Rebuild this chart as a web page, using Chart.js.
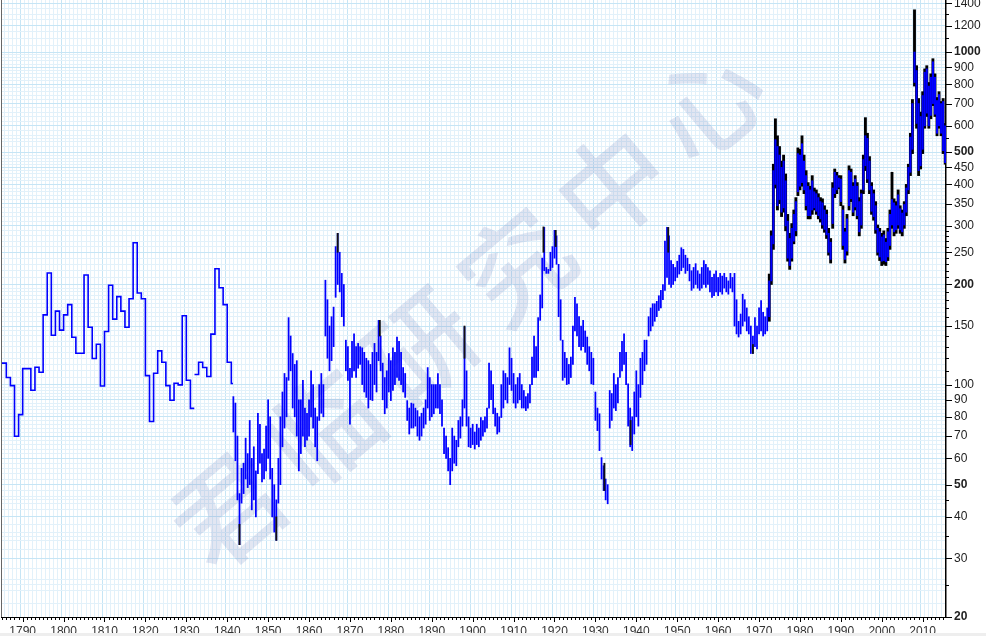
<!DOCTYPE html>
<html><head><meta charset="utf-8">
<script src="https://cdn.jsdelivr.net/npm/chart.js@4.4.1/dist/chart.umd.min.js"></script>
<style>html,body{margin:0;padding:0;background:#fff;}#wrap{width:986px;height:636px;position:relative;}</style>
</head><body><div id="wrap"><canvas id="c" width="986" height="636"></canvas></div>
<script>
// ---- Annual step series (1784-1841) ----
const earlyYears = [1784,1785,1786,1787,1788,1789,1790,1791,1792,1793,1794,1795,1796,1797,1798,1799,1800,1801,1802,1803,1804,1805,1806,1807,1808,1809,1810,1811,1812,1813,1814,1815,1816,1817,1818,1819,1820,1821,1822,1823,1824,1825,1826,1827,1828,1829,1830,1831,1831.95,1831.97,1832,1833,1834,1835,1836,1837,1838,1839,1840,1841,1841.4];
const earlyValues = [116,116,105,99.3,69.9,81.2,111.7,111.7,96.1,112.7,108.9,162,216.6,140.7,166.3,145.8,162,174,138.8,124.2,124.2,213.6,148.8,119.8,132.2,99,144.4,199,157.3,183.9,166.3,148.8,181.2,267,188.6,181.2,106.4,77.4,108.2,126.3,116.7,99.3,89.7,100.9,99.8,161,103,84.8,84.8,null,107.2,116.7,112.5,105.7,141.8,223,195.5,174,116.7,100.7,100.7];

// ---- Half-year ranges (1841.5-1972) ----
const midYears = [
1841.5,1842,1842.5,1843,1843.5,1844,1844.5,1845,1845.5,1846,1846.5,1847,1847.5,1848,1848.5,1849,1849.5,1850,1850.5,
1851,1851.5,1852,1852.5,1853,1853.5,1854,1854.5,1855,1855.5,1856,1856.5,1857,1857.5,1858,1858.5,1859,1859.5,1860,1860.5,
1861,1861.5,1862,1862.5,1863,1863.5,1864,1864.5,1865,1865.5,1866,1866.5,1867,1867.5,1868,1868.5,1869,1869.5,1870,1870.5,
1871,1871.5,1872,1872.5,1873,1873.5,1874,1874.5,1875,1875.5,1876,1876.5,1877,1877.5,1878,1878.5,1879,1879.5,1880,1880.5,
1881,1881.5,1882,1882.5,1883,1883.5,1884,1884.5,1885,1885.5,1886,1886.5,1887,1887.5,1888,1888.5,1889,1889.5,1890,1890.5,
1891,1891.5,1892,1892.5,1893,1893.5,1894,1894.5,1895,1895.5,1896,1896.5,1897,1897.5,1898,1898.5,1899,1899.5,1900,1900.5,
1901,1901.5,1902,1902.5,1903,1903.5,1904,1904.5,1905,1905.5,1906,1906.5,1907,1907.5,1908,1908.5,1909,1909.5,1910,1910.5,
1911,1911.5,1912,1912.5,1913,1913.5,1914,1914.5,1915,1915.5,1916,1916.5,1917,1917.5,1918,1918.5,1919,1919.5,1920,1920.5,
1921,1921.5,1922,1922.5,1923,1923.5,1924,1924.5,1925,1925.5,1926,1926.5,1927,1927.5,1928,1928.5,1929,1929.5,1930,1930.5,
1931,1931.5,1932,1932.5,1933,1933.5,1934,1934.5,1935,1935.5,1936,1936.5,1937,1937.5,1938,1938.5,1939,1939.5,1940,1940.5,
1941,1941.5,1942,1942.5,1943,1943.5,1944,1944.5,1945,1945.5,1946,1946.5,1947,1947.5,1948,1948.5,1949,1949.5,1950,1950.5,
1951,1951.5,1952,1952.5,1953,1953.5,1954,1954.5,1955,1955.5,1956,1956.5,1957,1957.5,1958,1958.5,1959,1959.5,1960,1960.5,
1961,1961.5,1962,1962.5,1963,1963.5,1964,1964.5,1965,1965.5,1966,1966.5,1967,1967.5,1968,1968.5,1969,1969.5,1970,1970.5,
1971,1971.5,1972];
const midLow = [
72,59,45,33,44,47,52,49,50,42,45,40,54,58,51,52,55,60,52,
40,36,34,44,50,65,74,80,103,110,85,80,70,55,62,70,65,68,70,80,
74,65,59,78,82,80,140,120,110,118,130,183,200,190,160,150,110,103,76,105,
110,105,112,115,100,95,91.5,85,90,89.5,100,95,118,110,90,81.7,85,95,89.5,96,
100,105,103,100,95,91.5,78,71,74,74,75,70,68,70,74,76,85,78,80,81.7,
85,85,81.7,75,62,60,55,50,55,58,57,65,69,75,85,75,65,64.6,66,64,
66,65,68,70,72,74,85,90,81.7,75,71,72,79.6,85,90,88,100,96,88,85,
88,90,85,85,83.5,85,88,100,105,105,110,156,170,220,216,216,220,225,240,230,
160,136,103,105,100,100.5,105,115,145,140,130,127,130,125,115,110,100.5,100,78,72.7,
63.3,52,48,45,43.8,74,78,85,83.5,88,105,110,115,100,75,65,63.3,71,80,75,
91.5,100,110,115,140,145,150,155,160,167,170,180,192,210,200,196,200,205,210,215,
220,225,216,220,205,192,195,200,195,192,195,200,196,200,190,183,185,190,185,190,
187,195,190,187,195,190,150,142,139,142,150,155,145,142,124,124,130,128,142,145,
140,142,145];
const midHigh = [
92,88,70,47,56,58,69,62,78,60,65,55,82,76,62,64,75,90,80,
56,50,45,60,80,95,108,105,159,140,124,115,118,90,90,103,85,82,90,110,
100,85,80,100,108,100,206,180,150,160,171,260,285,250,216,200,136,130,112,135,
142,130,133,130,129,125,120,118,115,125,133,125,156,140,116,105,110,124,118,129,
125,139,135,125,112.5,108,89.5,85,88,87.5,85,83.5,80,82,85,90,112.5,105,100,100,
100,108,100,90,74,70,64.6,60,74,70,68,78,80,90,149,110,80,74,76,72,
76,74,79.6,78,80,85,116,110,100,85,82,80,100,110,108,105,129,120,108,100,
105,108,100,96,92,94,100,121,140,130,159,186,240,297,225,222,250,260,291,280,
230,180,136,125,120,115,121,150,183,175,160,150,156,145,139,130,125,120,95,85,
81.7,60.3,57,52,50,96,94,108,100,105,125,135,142,125,100.5,85,80,95,110,100,
120,125,136,136,160,170,175,175,178,185,192,200,270,297,280,236,230,225,235,245,
258,255,245,240,230,220,225,231,220,215,225,236,230,225,220,210,215,220,210,216,
212,216,210,205,216,210,216,180,155,163,187,180,170,160,150,140,159,150,170,179,
165,160,170];

// ---- Half-year ranges (1972.5-2015.5): full range and body ----
const lateYears = [1972.5,1973,1973.5,1974,1974.5,1975,1975.5,1976,1976.5,1977,1977.5,1978,1978.5,1979,1979.5,1980,1980.5,
1981,1981.5,1982,1982.5,1983,1983.5,1984,1984.5,1985,1985.5,1986,1986.5,1987,1987.5,1988,1988.5,1989,1989.5,1990,1990.5,
1991,1991.5,1992,1992.5,1993,1993.5,1994,1994.5,1995,1995.5,1996,1996.5,1997,1997.5,1998,1998.5,1999,1999.5,2000,2000.5,
2001,2001.5,2002,2002.5,2003,2003.5,2004,2004.5,2005,2005.5,2006,2006.5,2007,2007.5,2008,2008.5,2009,2009.5,2010,2010.5,
2011,2011.5,2012,2012.5,2013,2013.5,2014,2014.5,2015,2015.5];
const lateLow = [155,200,255,390,335,350,320,330,290,235,222,235,265,280,370,385,395,
375,335,315,315,325,335,325,315,308,295,287,275,245,232,295,365,375,388,345,255,
232,245,335,355,322,335,315,280,295,375,440,405,375,325,312,285,245,236,228,230,
228,236,255,295,280,285,295,285,280,295,322,375,425,495,790,590,425,445,495,590,
640,590,630,690,640,560,590,560,495,460];
const lateHigh = [215,290,460,630,560,520,470,490,430,325,285,305,335,365,515,510,560,
490,440,405,395,425,390,385,375,365,362,345,335,295,275,405,445,435,425,425,345,
295,325,455,445,405,425,405,365,385,490,635,570,485,405,385,355,302,295,285,290,
275,295,335,435,362,355,385,345,335,355,400,460,570,720,1340,910,725,660,760,890,
910,810,860,955,860,730,760,710,725,610];
const lateBodyLow = [160,205,265,400,345,360,330,340,300,240,228,240,270,290,380,395,405,
385,345,322,322,335,340,332,322,315,302,293,282,250,238,305,375,385,392,355,262,
238,252,345,362,330,342,322,288,302,385,455,415,385,332,320,292,250,242,235,236,
234,242,262,302,288,292,302,292,288,302,330,385,435,510,810,610,440,455,510,600,
655,600,645,700,650,570,600,570,505,465];
const lateBodyHigh = [205,280,440,545,520,490,450,470,410,310,275,295,325,355,495,490,530,
470,425,395,385,410,380,375,365,355,352,335,325,285,268,390,435,425,418,415,335,
288,315,440,435,395,415,395,355,375,475,560,550,470,395,375,345,295,288,278,282,
268,288,325,360,352,345,372,338,328,348,390,450,555,700,1000,880,700,640,740,870,
890,790,840,935,840,715,745,700,710,600];

// ---- occasional black strokes before 1972 ----
const spikeYears = [1843,1852,1867,1877.3,1898,1917.3,1920.3,1932.2,1938.6,1947.8,1968.5];
const spikeLow = [33,34,250,140,120,250,260,48,66,250,124];
const spikeHigh = [38,40,285,156,150,298,291,58,78,297,132];

// ---- axes ----
const xLabelYears = [1790,1800,1810,1820,1830,1840,1850,1860,1870,1880,1890,1900,1910,1920,1930,1940,1950,1960,1970,1980,1990,2000,2010];
const yLabelValues = [20,30,40,50,60,70,80,90,100,150,200,250,300,350,400,450,500,600,700,800,900,1000,1200,1400];
const yBoldValues = [20,50,200,500,1000];
const yMinorTickValues = [25,35,45,110,120,130,140,160,170,180,190,210,220,230,240,260,270,280,290,550,1100,1300];
const yGridValues = [22,24,26,28,32,34,36,38,42,44,46,48,52,54,56,58,62,64,66,68,72,74,76,78,82,84,86,88,92,94,96,98,
105,110,115,120,125,130,135,140,145,155,160,165,170,175,180,185,190,195,210,220,230,240,260,270,280,290,310,320,330,340,360,370,380,390,
410,420,430,440,460,470,480,490,520,540,560,580,620,640,660,680,720,740,760,780,820,840,860,880,920,940,960,980,1050,1100,1150,1250,1300,1350];
const watermarkText = '君临研究中心';

const X_MIN = 1784.7, X_MAX = 2015.7, Y_MIN = 20, Y_MAX = 1434;
const BLUE = '#0000ff';

const pts = (xs, ys) => xs.map((x, i) => ({x, y: ys[i]}));
const rng = (xs, lo, hi) => xs.map((x, i) => ({x, y: [lo[i], hi[i]]}));

const gridLabelSet = new Set(yLabelValues);
const allYTicks = [...new Set([...yLabelValues, ...yMinorTickValues, ...yGridValues])].sort((a,b)=>a-b);

const decorPlugin = {
  id: 'decor',
  beforeDatasetsDraw(chart) {
    const {ctx, chartArea: a} = chart;
    ctx.save();
    ctx.beginPath(); ctx.rect(a.left, a.top, a.right - a.left, a.bottom - a.top); ctx.clip();
    ctx.fillStyle = 'rgba(125,140,195,0.22)';
    ctx.font = '500 108px "Noto Sans CJK SC"';
    ctx.textAlign = 'center'; ctx.textBaseline = 'middle';
    const sx = 228, sy = 510, ex = 708, ey = 104;
    const chars = Array.from(watermarkText);
    const ang = Math.atan2(ey - sy, ex - sx);
    chars.forEach((ch, i) => {
      const t = i / (chars.length - 1);
      ctx.save();
      ctx.translate(sx + (ex - sx) * t, sy + (ey - sy) * t);
      ctx.rotate(ang);
      ctx.fillText(ch, 0, 0);
      ctx.restore();
    });
    ctx.restore();
  },
  afterDraw(chart) {
    const {ctx, chartArea: a} = chart;
    const xs = chart.scales.x, ys = chart.scales.y;
    ctx.save();
    ctx.strokeStyle = '#000'; ctx.lineWidth = 1;
    for (let yr = Math.ceil(X_MIN); yr <= Math.floor(X_MAX); yr++) {
      const px = Math.round(xs.getPixelForValue(yr)) + 0.5;
      const len = yr % 10 === 0 ? 5 : 3;
      ctx.beginPath(); ctx.moveTo(px, a.bottom); ctx.lineTo(px, a.bottom + len); ctx.stroke();
    }
    [...yLabelValues, ...yMinorTickValues].forEach(v => {
      const py = Math.round(ys.getPixelForValue(v)) + 0.5;
      const len = gridLabelSet.has(v) ? 6 : 3;
      ctx.beginPath(); ctx.moveTo(a.right, py); ctx.lineTo(a.right + len, py); ctx.stroke();
    });
    ctx.strokeStyle = '#666';
    ctx.beginPath(); ctx.moveTo(a.left + 0.5, a.top); ctx.lineTo(a.left + 0.5, a.bottom); ctx.stroke();
    ctx.fillStyle = '#eeeeee';
    ctx.fillRect(0, 633, chart.width, 3);
    ctx.restore();
  }
};

new Chart(document.getElementById('c'), {
  type: 'bar',
  data: {
    datasets: [
      {type: 'line', data: pts(earlyYears, earlyValues), stepped: true, borderColor: BLUE, borderWidth: 1.6, pointRadius: 0, spanGaps: false, order: 1},
      {type: 'bar', data: rng(midYears, midLow, midHigh), backgroundColor: BLUE, barThickness: 1.1, order: 3},
      {type: 'bar', data: rng(spikeYears, spikeLow, spikeHigh), backgroundColor: '#111', barThickness: 1.2, order: 2},
      {type: 'bar', data: rng(lateYears, lateLow, lateHigh), backgroundColor: '#000', barThickness: 2.2, order: 5},
      {type: 'bar', data: rng(lateYears, lateBodyLow, lateBodyHigh), backgroundColor: BLUE, barThickness: 1.4, order: 4}
    ]
  },
  options: {
    responsive: false, animation: false, devicePixelRatio: 1,
    layout: {padding: {left: 1, top: 0, right: 0, bottom: 0}},
    datasets: {bar: {grouped: false}},
    plugins: {legend: {display: false}, tooltip: {enabled: false}},
    scales: {
      x: {
        type: 'linear', min: X_MIN, max: X_MAX, offset: false,
        afterBuildTicks: s => {
          const t = [];
          for (let yr = Math.ceil(X_MIN); yr <= Math.floor(X_MAX); yr++) t.push({value: yr});
          s.ticks = t;
        },
        afterFit: s => { s.height = 19; s.paddingLeft = 0; s.paddingRight = 0; },
        ticks: {
          autoSkip: false, maxRotation: 0, minRotation: 0, padding: 7,
          color: '#333', font: {family: 'Liberation Sans, Arial', size: 12},
          callback: v => xLabelYears.includes(v) ? String(v) : ''
        },
        grid: {drawTicks: false, color: c => (c.tick && c.tick.value % 10 === 0) ? '#c6e5f5' : '#e2f1fa', lineWidth: 1},
        border: {display: true, color: '#000', width: 1}
      },
      y: {
        type: 'logarithmic', position: 'right', min: Y_MIN, max: Y_MAX,
        afterBuildTicks: s => { s.ticks = allYTicks.map(v => ({value: v})); },
        afterFit: s => { s.width = 40; s.paddingTop = 0; s.paddingBottom = 0; },
        ticks: {
          autoSkip: false, padding: 8, color: '#222',
          font: c => ({family: 'Liberation Sans, Arial', size: 12, weight: (c.tick && yBoldValues.includes(c.tick.value)) ? 'bold' : 'normal'}),
          callback: v => gridLabelSet.has(v) ? String(v) : ''
        },
        grid: {drawTicks: false, color: c => (c.tick && gridLabelSet.has(c.tick.value)) ? '#c6e5f5' : '#e2f1fa', lineWidth: 1},
        border: {display: true, color: '#000', width: 1.5}
      }
    }
  },
  plugins: [decorPlugin]
});
</script></body></html>
